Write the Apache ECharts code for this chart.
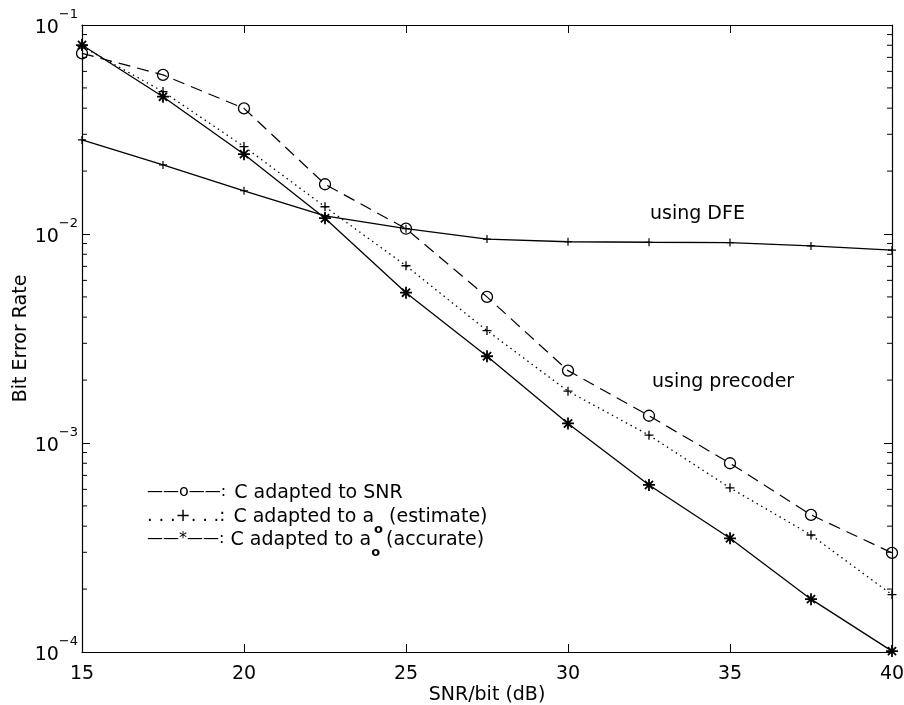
<!DOCTYPE html>
<html><head><meta charset="utf-8">
<script src="https://cdn.jsdelivr.net/npm/echarts@6/dist/echarts.min.js"></script>
<style>html,body{margin:0;padding:0;background:#fff}#c{width:904px;height:705px}</style>
</head><body><div id="c"></div>
<script>
// ---- data ----
const snrDb = [15, 17.5, 20, 22.5, 25, 27.5, 30, 32.5, 35, 37.5, 40];
const berAdaptedSnr = [0.0732, 0.0577, 0.0399, 0.0173, 0.0106, 0.0050, 0.00222, 0.00135, 0.00080, 0.000453, 0.000298];
const berEstimate   = [0.0790, 0.0480, 0.0262, 0.0135, 0.00705, 0.00345, 0.00177, 0.00109, 0.00061, 0.000363, 0.000188];
const berAccurate   = [0.0802, 0.0454, 0.0241, 0.0119, 0.00524, 0.0026, 0.00124, 0.00063, 0.00035, 0.000179, 0.000101];
const berDfe        = [0.0282, 0.0214, 0.0161, 0.0122, 0.0106, 0.00946, 0.00918, 0.00913, 0.0091, 0.00877, 0.00838];
const yMinorTicks = [2e-4,3e-4,4e-4,5e-4,6e-4,7e-4,8e-4,9e-4,
                     2e-3,3e-3,4e-3,5e-3,6e-3,7e-3,8e-3,9e-3,
                     2e-2,3e-2,4e-2,5e-2,6e-2,7e-2,8e-2,9e-2];
const xLabel = 'SNR/bit (dB)';
const yLabel = 'Bit Error Rate';
const legendPrefixes = ['——o——:', '. . .+. . .:', '——*——:'];
const legendTexts = [['C adapted to SNR'], ['C adapted to a', 'o', ' (estimate)'], ['C adapted to a', 'o', ' (accurate)']];
const annotationTexts = ['using DFE', 'using precoder'];

const FONT = 'DejaVu Sans';
const xMin = snrDb[0], xMax = snrDb[snrDb.length - 1];
const pairs = arr => snrDb.map((x, i) => [x, arr[i]]);
const plusPath = 'path://M0,5L10,5M5,0L5,10';
const starPath = 'path://M0,5L10,5M5,0L5,10M1.6,1.6L8.4,8.4M1.6,8.4L8.4,1.6';

const chart = echarts.init(document.getElementById('c'), null, {renderer: 'canvas'});

const axisCommon = {
  axisLine: {show: true, onZero: false, lineStyle: {color: '#000', width: 1.2}},
  axisTick: {show: true, inside: true, length: 8, lineStyle: {color: '#000', width: 1}},
  splitLine: {show: false}
};

function legendRich(i) {
  const parts = legendTexts[i];
  const pk = ['p', 'p2', 'p3'][i];
  let s = '{' + pk + '|' + legendPrefixes[i] + '}{t| ' + parts[0] + '}';
  if (parts.length > 1) s += '{s|' + parts[1] + '}{t|' + parts[2] + '}';
  return s;
}
const richLegend = {
  p: {fontFamily: FONT, fontSize: 16, lineHeight: 19, verticalAlign: 'top', fill: '#000', padding: [0, 2, 0, 0]},
  p2: {fontFamily: FONT, fontSize: 18, lineHeight: 19, verticalAlign: 'top', fill: '#000', padding: [0, 2, 0, 0]},
  p3: {fontFamily: FONT, fontSize: 16, lineHeight: 19, verticalAlign: 'top', fill: '#000', padding: [0, 0, 0, 0]},
  t: {fontFamily: FONT, fontSize: 19, lineHeight: 19, verticalAlign: 'top', fill: '#000'},
  s: {fontFamily: FONT, fontSize: 13, fontWeight: 'bold', lineHeight: 13, padding: [16, 0, 0, 0], verticalAlign: 'top', fill: '#000'}
};
const legendY = [483.5, 507.5, 530.5];

const option = {
  animation: false,
  backgroundColor: '#fff',
  textStyle: {fontFamily: FONT},
  grid: {left: 82, right: 12, top: 25, bottom: 53, containLabel: false, outerBoundsMode: 'none'},
  xAxis: [
    Object.assign({}, axisCommon, {
      type: 'value', position: 'bottom', min: xMin, max: xMax, interval: 5,
      axisLabel: {color: '#000', fontSize: 19, fontFamily: FONT, margin: 13},
      name: xLabel, nameLocation: 'middle', nameGap: 34, nameMoveOverlap: false,
      nameTextStyle: {color: '#000', fontSize: 19, fontFamily: FONT}
    }),
    Object.assign({}, axisCommon, {
      type: 'value', position: 'top', min: xMin, max: xMax, interval: 5,
      axisLabel: {show: false}
    })
  ],
  yAxis: [
    Object.assign({}, axisCommon, {
      type: 'log', logBase: 10, position: 'left', min: 1e-4, max: 1e-1,
      axisLabel: {
        color: '#000', margin: 4, padding: [0, 0, 4, 0],
        formatter: v => {
          const e = Math.round(Math.log10(v));
          return '{b|10}{e|' + (e < 0 ? '−' : '') + Math.abs(e) + '}';
        },
        rich: {
          b: {fontFamily: FONT, fontSize: 19, lineHeight: 19, verticalAlign: 'bottom', color: '#000'},
          e: {fontFamily: FONT, fontSize: 13, lineHeight: 29, verticalAlign: 'top', color: '#000'}
        }
      },
      name: yLabel, nameLocation: 'middle', nameGap: 51, nameRotate: 90, nameMoveOverlap: false,
      nameTextStyle: {color: '#000', fontSize: 19, fontFamily: FONT}
    }),
    Object.assign({}, axisCommon, {
      type: 'log', logBase: 10, position: 'right', min: 1e-4, max: 1e-1,
      axisLabel: {show: false}
    })
  ],
  series: [
    {
      type: 'custom', xAxisIndex: 0, yAxisIndex: 0, silent: true,
      data: yMinorTicks.map(v => [xMin, v]),
      renderItem: (params, api) => {
        const v = api.value(1);
        const l = api.coord([xMin, v]);
        const r = api.coord([xMax, v]);
        return {type: 'group', children: [
          {type: 'line', shape: {x1: l[0], y1: l[1], x2: l[0] + 5, y2: l[1]}, style: {stroke: '#000', lineWidth: 1}},
          {type: 'line', shape: {x1: r[0], y1: r[1], x2: r[0] - 5, y2: r[1]}, style: {stroke: '#000', lineWidth: 1}}
        ]};
      }
    },
    {
      name: 'C adapted to SNR', type: 'line', data: pairs(berAdaptedSnr),
      lineStyle: {color: '#000', width: 1.2, type: [12, 7]},
      symbol: 'circle', symbolSize: 11,
      itemStyle: {color: 'rgba(0,0,0,0)', borderColor: '#000', borderWidth: 1.3},
      emphasis: {disabled: true}
    },
    {
      name: 'C adapted to a0 (estimate)', type: 'line', data: pairs(berEstimate),
      lineStyle: {color: '#000', width: 1.3, type: [1.5, 3.8]},
      symbol: plusPath, symbolSize: 9,
      itemStyle: {color: 'rgba(0,0,0,0)', borderColor: '#000', borderWidth: 1.3},
      emphasis: {disabled: true}
    },
    {
      name: 'C adapted to a0 (accurate)', type: 'line', data: pairs(berAccurate),
      lineStyle: {color: '#000', width: 1.3, type: 'solid'},
      symbol: starPath, symbolSize: 12,
      itemStyle: {color: 'rgba(0,0,0,0)', borderColor: '#000', borderWidth: 1.8},
      emphasis: {disabled: true}
    },
    {
      name: 'using DFE', type: 'line', data: pairs(berDfe),
      lineStyle: {color: '#000', width: 1.3, type: 'solid'},
      symbol: plusPath, symbolSize: 8,
      itemStyle: {color: 'rgba(0,0,0,0)', borderColor: '#000', borderWidth: 1.2},
      emphasis: {disabled: true}
    }
  ],
  graphic: [
    {type: 'text', left: 650, top: 205, style: {text: annotationTexts[0], font: '19px "DejaVu Sans"', fill: '#000'}},
    {type: 'text', left: 652, top: 373, style: {text: annotationTexts[1], font: '19px "DejaVu Sans"', fill: '#000'}}
  ].concat(legendPrefixes.map((p, i) => ({
    type: 'text', x: 147, y: legendY[i],
    style: {text: legendRich(i), rich: richLegend, align: 'left', verticalAlign: 'top', fill: '#000'}
  })))
};
chart.setOption(option);
</script>
</body></html>
